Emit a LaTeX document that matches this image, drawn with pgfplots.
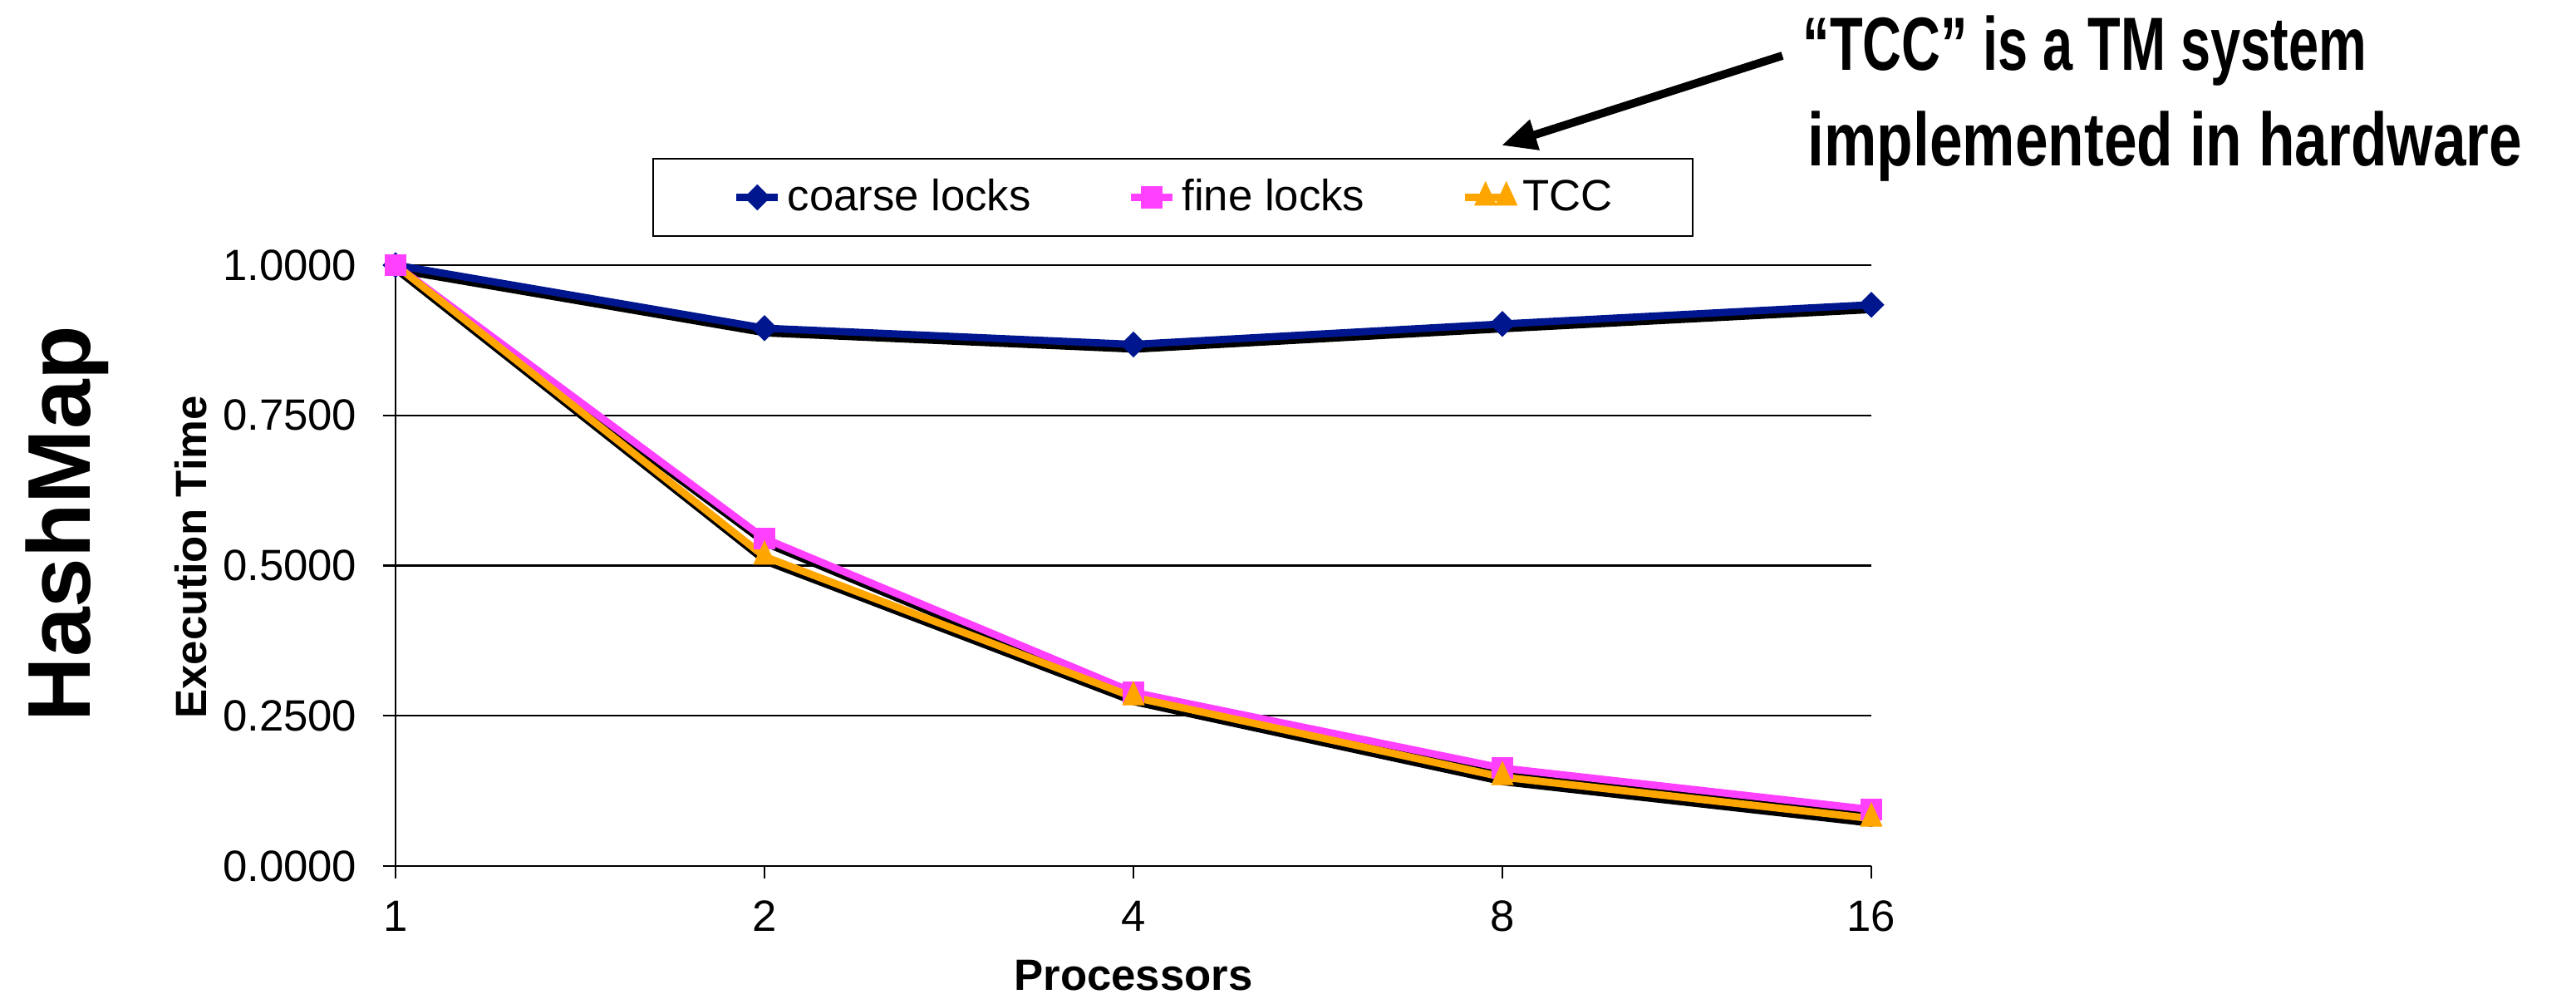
\documentclass[border=0pt]{standalone}
\usepackage{fontspec}
\setmainfont{Liberation Sans}
\usepackage{pgfplots}
\pgfplotsset{compat=1.18}
\usetikzlibrary{arrows.meta}

\definecolor{coarseblue}{RGB}{0,22,142}
\definecolor{finepink}{RGB}{255,64,255}
\definecolor{tccorange}{RGB}{255,165,0}

\begin{document}
\begin{tikzpicture}
\begin{axis}[
    width=17.76cm, height=7.23cm, scale only axis,
    xmin=0, xmax=4, ymin=0, ymax=1,
    xtick={0,1,2,3,4}, xticklabels={1,2,4,8,16},
    ytick={0,0.25,0.5,0.75,1},
    axis lines*=left,
    axis line style={line width=0.8pt},
    ymajorgrids, major grid style={black, line width=0.6pt},
    tick align=outside, major tick length=0.15cm,
    tick style={black, line width=0.7pt},
    every tick label/.append style={font=\fontsize{15}{18}\selectfont},
    /pgf/number format/assume math mode=true,
    yticklabel style={anchor=east, inner sep=0pt, xshift=-0.31cm,
        /pgf/number format/fixed, /pgf/number format/fixed zerofill,
        /pgf/number format/precision=4},
    xticklabel style={anchor=center, yshift=-0.45cm},
    xlabel={Processors},
    xlabel style={at={(axis description cs:0.5,-0.1826)}, anchor=center,
        font=\fontsize{15}{18}\selectfont\bfseries},
    ylabel={Execution Time},
    ylabel style={at={(axis description cs:-0.1385,0.514)}, anchor=center,
        font=\fontsize{15}{18}\selectfont\bfseries},
    clip=false,
    legend columns=3,
    legend style={at={(axis description cs:0.5267,1.1127)}, anchor=center,
        draw=black, line width=0.6pt, fill=white,
        inner xsep=0.96cm, inner ysep=0.25cm,
        nodes={inner sep=0pt},
        font=\fontsize{15}{18}\selectfont,
        /tikz/every odd column/.append style={column sep=0.07cm},
        /tikz/every even column/.append style={column sep=1.16cm}},
    legend image code/.code={
        \draw[mark repeat=2,mark phase=2,#1]
            plot coordinates {(0cm,0cm) (0.25cm,0cm) (0.5cm,0cm)};},
]
% coarse locks
\addplot[black, line width=2.5pt, forget plot,
    transform canvas={xshift=0.5pt,yshift=-1.6pt}]
    coordinates {(0,1.0) (1,0.895) (2,0.868) (3,0.902) (4,0.934)};
\addplot[coarseblue, line width=2.5pt, mark=square*, mark size=3pt,
    mark options={rotate=45, line width=0.3pt, fill=coarseblue}]
    coordinates {(0,1.0) (1,0.895) (2,0.868) (3,0.902) (4,0.934)};
\addlegendentry{coarse locks}

% fine locks
\addplot[black, line width=2.5pt, forget plot,
    transform canvas={xshift=0.5pt,yshift=-1.6pt}]
    coordinates {(0,1.0) (1,0.545) (2,0.289) (3,0.163) (4,0.094)};
\addplot[finepink, line width=2.5pt, mark=square*, mark size=3.6pt,
    mark options={line width=0.3pt, fill=finepink}]
    coordinates {(0,1.0) (1,0.545) (2,0.289) (3,0.163) (4,0.094)};
\addlegendentry{fine locks}

% TCC
\addplot[black, line width=2.5pt, forget plot,
    transform canvas={xshift=0.5pt,yshift=-1.6pt}]
    coordinates {(0,1.0) (1,0.515) (2,0.281) (3,0.148) (4,0.079)};
\addplot[tccorange, line width=2.5pt, mark=triangle*, mark size=4.2pt,
    mark indices={2,3,4,5},
    mark options={yscale=1.25, line width=0.3pt, fill=tccorange}]
    coordinates {(0,1.0) (1,0.515) (2,0.281) (3,0.148) (4,0.079)};
\addlegendentry{TCC}
\end{axis}

% side title
\node[rotate=90, inner sep=0pt, font=\fontsize{30.5}{36}\selectfont\bfseries]
    at (-3.95,4.12) {HashMap};

% annotation
\node[anchor=base west, inner sep=0pt, font=\fontsize{25.8}{30}\selectfont\bfseries]
    at (16.93,9.57) {\scalebox{0.716}[1]{“TCC” is a TM system}};
\node[anchor=base west, inner sep=0pt, font=\fontsize{25.8}{30}\selectfont\bfseries]
    at (16.99,8.42) {\scalebox{0.786}[1]{implemented in hardware}};
\draw[line width=2.8pt, -{Triangle[length=0.42cm,width=0.36cm]}]
    (16.69,9.75) -- (13.31,8.67);

\pgfresetboundingbox
\path (-4.76,-1.60) rectangle (26.24,10.42);
\end{tikzpicture}
\end{document}
